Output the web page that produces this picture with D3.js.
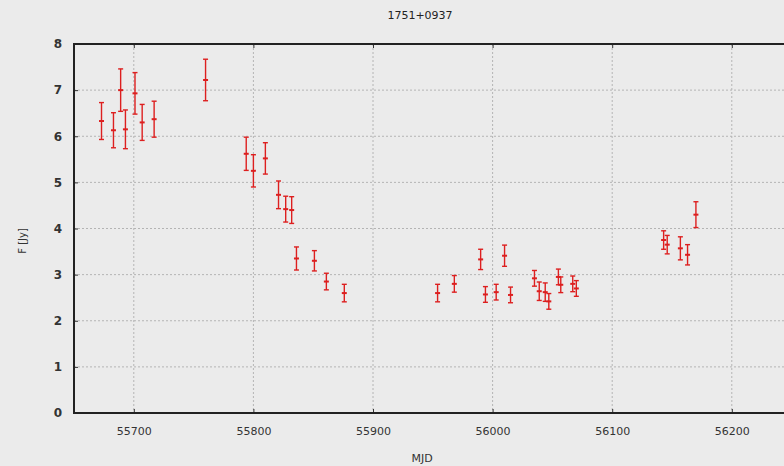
<!DOCTYPE html>
<html>
<head>
<meta charset="utf-8">
<script src="https://cdn.jsdelivr.net/npm/d3@7"></script>
<style>
html,body{margin:0;padding:0;background:#ebebeb;}
svg{display:block;}
</style>
</head>
<body>
<svg id="chart" width="784" height="466"></svg>
<script>
const title = "1751+0937";
const xLabel = "MJD";
const yLabel = "F [Jy]";
const xTicks = [55700, 55800, 55900, 56000, 56100, 56200];
const yTicks = [0, 1, 2, 3, 4, 5, 6, 7, 8];
const mjd  = [55673, 55683, 55689, 55693, 55701, 55707, 55717, 55760, 55794, 55800, 55810, 55821, 55827, 55832, 55836, 55851, 55861, 55876, 55954, 55968, 55990, 55994, 56003, 56010, 56015, 56035, 56039, 56044, 56047, 56055, 56057, 56067, 56070, 56143, 56146, 56157, 56163, 56170];
const flux = [6.33, 6.13, 7.0, 6.15, 6.93, 6.3, 6.37, 7.22, 5.62, 5.25, 5.52, 4.73, 4.42, 4.40, 3.35, 3.3, 2.85, 2.6, 2.6, 2.8, 3.33, 2.57, 2.62, 3.41, 2.56, 2.92, 2.64, 2.62, 2.42, 2.95, 2.78, 2.8, 2.7, 3.75, 3.65, 3.57, 3.43, 4.3];
const err  = [0.4, 0.38, 0.46, 0.42, 0.45, 0.39, 0.39, 0.45, 0.36, 0.35, 0.34, 0.3, 0.28, 0.29, 0.25, 0.22, 0.18, 0.19, 0.19, 0.18, 0.22, 0.17, 0.17, 0.23, 0.17, 0.17, 0.2, 0.2, 0.17, 0.17, 0.17, 0.17, 0.17, 0.2, 0.2, 0.25, 0.22, 0.28];

(function () {
const svg = d3.select("#chart");
const W = 784, H = 466;
const pL = 74, pT = 44, pB = 413, pR = 791.6;
const x = d3.scaleLinear().domain([55650, 56250]).range([pL, pR]);
const y = d3.scaleLinear().domain([0, 8]).range([pB, pT]);

svg.append("rect").attr("width", W).attr("height", H).attr("fill", "#ebebeb");

const g = svg.append("g");
g.selectAll(".gx").data(xTicks).enter().append("line")
  .attr("x1", d => x(d)).attr("x2", d => x(d)).attr("y1", pT).attr("y2", pB)
  .attr("stroke", "#b4b4b4").attr("stroke-width", 1).attr("stroke-dasharray", "2,2");
g.selectAll(".gy").data(yTicks.filter(d => d > 0 && d < 8)).enter().append("line")
  .attr("x1", pL).attr("x2", pR).attr("y1", d => y(d)).attr("y2", d => y(d))
  .attr("stroke", "#b4b4b4").attr("stroke-width", 1).attr("stroke-dasharray", "2,2");

const fontFam = "'DejaVu Sans', Verdana, sans-serif";
const xAxis = d3.axisBottom(x).tickValues(xTicks).tickSize(-4).tickPadding(14).tickFormat(d3.format("d"));
const xg = svg.append("g").attr("transform", `translate(0,${pB})`).call(xAxis);
xg.select(".domain").remove();
xg.selectAll("line").attr("stroke", "#333");
xg.selectAll("text").attr("font-family", fontFam).attr("font-size", 11).attr("fill", "#333");

const xTop = d3.axisTop(x).tickValues(xTicks).tickSize(-4).tickFormat("");
const xtg = svg.append("g").attr("transform", `translate(0,${pT})`).call(xTop);
xtg.select(".domain").remove();
xtg.selectAll("line").attr("stroke", "#333");

const yAxis = d3.axisLeft(y).tickValues(yTicks).tickSize(-4).tickPadding(12).tickFormat(d3.format("d"));
const yg = svg.append("g").attr("transform", `translate(${pL},0)`).call(yAxis);
yg.select(".domain").remove();
yg.selectAll("line").attr("stroke", "#333");
yg.selectAll("text").attr("font-family", fontFam).attr("font-size", 12).attr("font-weight", "bold").attr("fill", "#333");

svg.append("path").attr("d", `M${pR},${pT}H${pL}V${pB}H${pR}`)
  .attr("fill", "none").attr("stroke", "#222").attr("stroke-width", 2);

const data = mjd.map((m, i) => ({m, f: flux[i], e: err[i]}));
const eb = svg.append("g").attr("stroke", "#dd1f1f").attr("stroke-width", 1.4);
const cap = 2.5;
data.forEach(d => {
  const cx = x(d.m);
  eb.append("line").attr("x1", cx).attr("x2", cx).attr("y1", y(d.f + d.e)).attr("y2", y(d.f - d.e));
  eb.append("line").attr("x1", cx - cap).attr("x2", cx + cap).attr("y1", y(d.f + d.e)).attr("y2", y(d.f + d.e));
  eb.append("line").attr("x1", cx - cap).attr("x2", cx + cap).attr("y1", y(d.f - d.e)).attr("y2", y(d.f - d.e));
  eb.append("line").attr("x1", cx - cap).attr("x2", cx + cap).attr("y1", y(d.f)).attr("y2", y(d.f)).attr("stroke-width", 2);
});

svg.append("text").attr("x", 420).attr("y", 19).attr("text-anchor", "middle")
  .attr("font-family", fontFam).attr("font-size", 11).attr("fill", "#222").text(title);
svg.append("text").attr("x", 422).attr("y", 462).attr("text-anchor", "middle")
  .attr("font-family", fontFam).attr("font-size", 11).attr("fill", "#333").text(xLabel);
svg.append("text").attr("transform", "translate(26,241) rotate(-90)").attr("text-anchor", "middle")
  .attr("font-family", fontFam).attr("font-size", 10).attr("fill", "#333").text(yLabel);
})();
</script>
</body>
</html>
